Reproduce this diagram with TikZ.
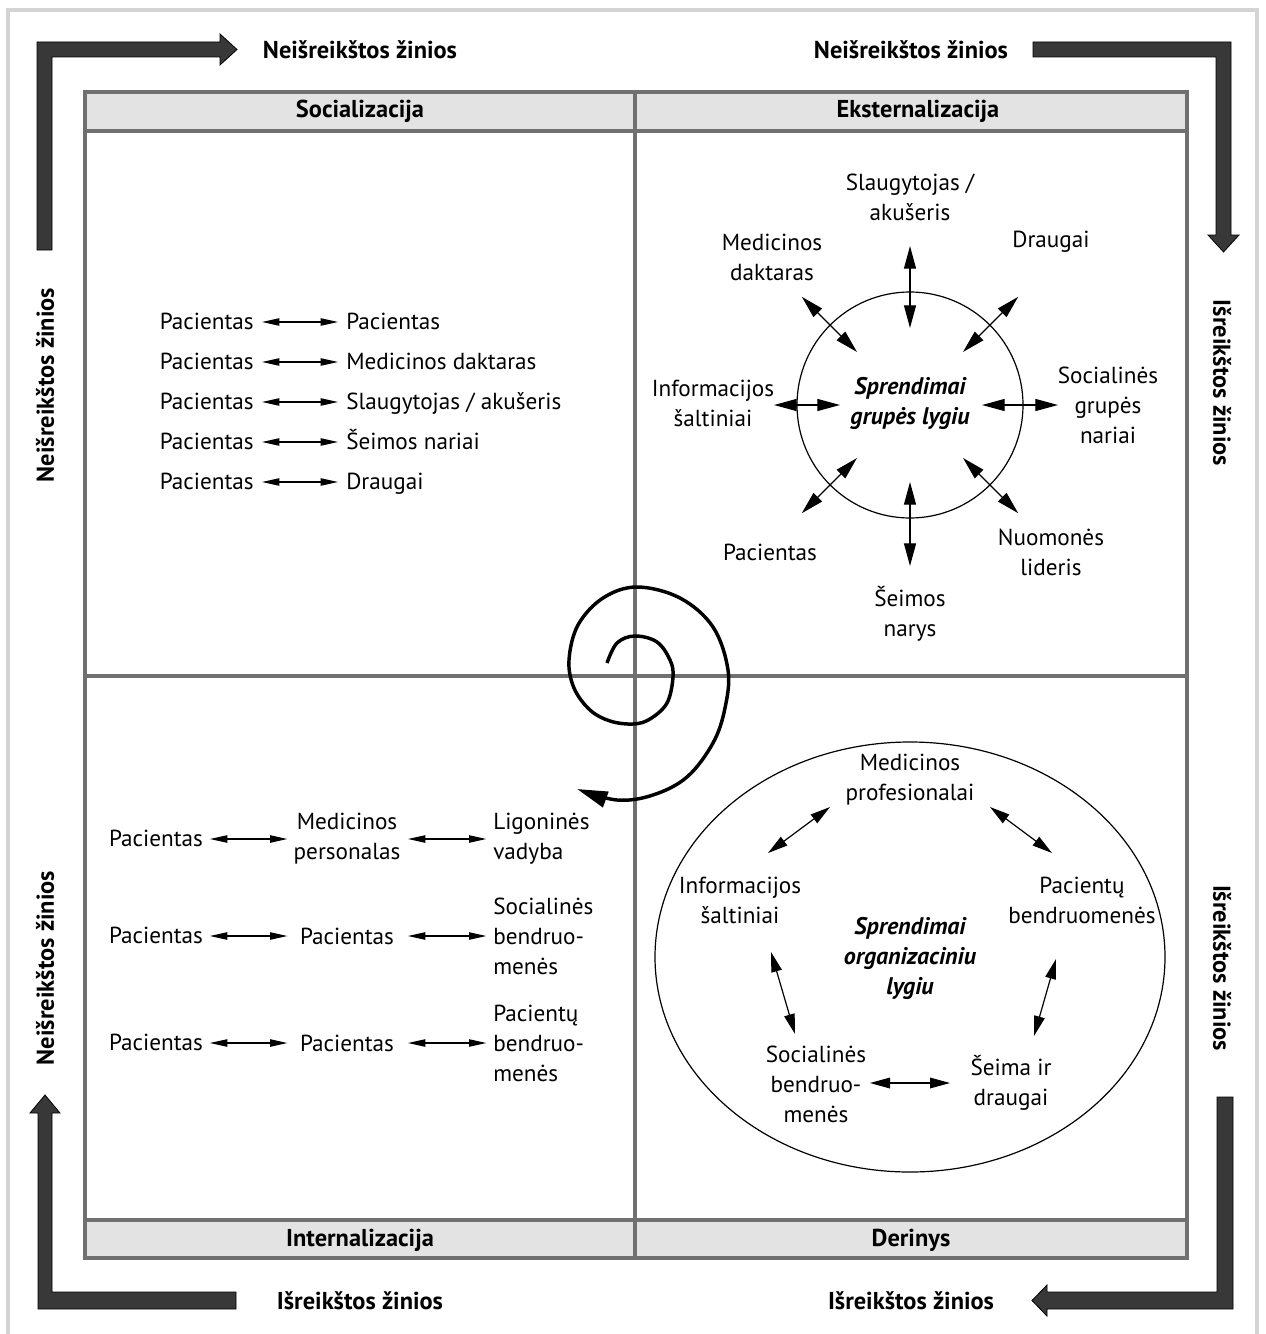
\documentclass[tikz,border=0pt]{standalone}
\usepackage{fontspec}
\setmainfont{PT Sans}
\usetikzlibrary{calc, arrows.meta}

\begin{document}
\begin{tikzpicture}[x=0.75pt, y=-0.75pt,
	txt/.style={font=\fontsize{17.4}{22.5}\selectfont, align=center, inner sep=3pt},
	one/.style={text height=12.5pt, text depth=1pt},
	lbl/.style={font=\fontsize{18.3}{20}\selectfont\bfseries, inner sep=0pt},
	mid/.style={txt, font=\fontsize{18}{22.5}\selectfont\bfseries\itshape},
	dbl/.style={<->, >={Triangle[length=13pt,width=5.5pt]}, line width=0.9pt},
	bigdbl/.style={dbl, >={Triangle[length=17pt,width=9pt]}},
	ovdbl/.style={dbl, >={Triangle[length=15pt,width=8pt]}},
	cornerarrow/.style={fill=black!78, draw=black, line width=0.6pt},
	gridline/.style={draw=black!56, line width=2.5pt},
	spiral/.style={line width=2.6pt, -{Triangle[length=23pt,width=12pt]}}
	]

	\useasboundingbox (0,0) rectangle (1265,1334);
	\draw[draw=black!17, line width=3.5pt] (8,10) rectangle (1257,1345);

	% quadrants
	\fill[black!11] (85,92) rectangle (1187,131);
	\fill[black!11] (85,1220) rectangle (1187,1258);
	\draw[gridline] (85,92) rectangle (1187,1258);
	\draw[gridline] (85,131) -- (1187,131);
	\draw[gridline] (85,1220) -- (1187,1220);
	\draw[gridline] (635,92) -- (635,1258);
	\draw[gridline] (85,676) -- (1187,676);

	\node[lbl] (soc) at (360,111) {Socializacija};
	\node[lbl] (ext) at (918,111) {Eksternalizacija};
	\node[lbl] (int) at (360,1240) {Internalizacija};
	\node[lbl] (der) at (911,1240) {Derinys};

	% corner arrows
	\filldraw[cornerarrow] (37,250) -- (37,42) -- (220,42) -- (220,34) -- (237,49.5) -- (220,65) -- (220,57) -- (52,57) -- (52,250) -- cycle;
	\filldraw[cornerarrow] (1033,42) -- (1231,42) -- (1231,235) -- (1239,235) -- (1223.5,252) -- (1208,235) -- (1216,235) -- (1216,57) -- (1033,57) -- cycle;
	\filldraw[cornerarrow] (38,1309) -- (38,1113) -- (30,1113) -- (45,1095) -- (60,1113) -- (52,1113) -- (52,1292) -- (236,1292) -- (236,1309) -- cycle;
	\filldraw[cornerarrow] (1217,1097) -- (1233,1097) -- (1233,1309) -- (1047,1309) -- (1047,1316) -- (1032,1300.5) -- (1047,1285) -- (1047,1292) -- (1217,1292) -- cycle;

	\node[lbl] (nz1) at (360,50) {Neišreikštos žinios};
	\node[lbl] (nz2) at (911,50) {Neišreikštos žinios};
	\node[lbl] (iz1) at (360,1301) {Išreikštos žinios};
	\node[lbl] (iz2) at (911,1301) {Išreikštos žinios};
	\node[lbl, rotate=90] (nz3) at (45,385) {Neišreikštos žinios};
	\node[lbl, rotate=90] (nz4) at (45,968) {Neišreikštos žinios};
	\node[lbl, rotate=-90] (iz3) at (1222,383) {Išreikštos žinios};
	\node[lbl, rotate=-90] (iz4) at (1222,968) {Išreikštos žinios};

	% socializacija
	\foreach \y/\t in {322/Pacientas, 362/Medicinos daktaras, 402/{Slaugytojas / akušeris}, 442/Šeimos nariai, 482/Draugai}{
		\node[txt, one, anchor=east] (sl\y) at (258,\y) {Pacientas};
		\node[txt, one, anchor=west] (sr\y) at (342,\y) {\t};
		\draw[dbl, shorten <=3pt, shorten >=3pt] (sl\y) -- (sr\y);
	}

	% eksternalizacija
	\coordinate (gc) at (910,405);
	\draw[line width=0.9pt] (gc) circle[radius=113];
	\node[mid] (grp) at (910,403) {Sprendimai\\grupės lygiu};
	\node[txt] (sa) at (910,197) {Slaugytojas /\\akušeris};
	\node[txt] (md) at (772,257) {Medicinos\\daktaras};
	\node[txt] (dr) at (1051,242) {Draugai};
	\node[txt] (is) at (713,403) {Informacijos\\šaltiniai};
	\node[txt] (sg) at (1108,405) {Socialinės\\grupės\\nariai};
	\node[txt] (pa) at (770,552) {Pacientas};
	\node[txt] (nl) at (1051,552) {Nuomonės\\lideris};
	\node[txt] (sn) at (910,614) {Šeimos\\narys};
	\foreach \a/\ri/\ro in {-90/77/159, -45/75/153, 0/72/148, 45/75/153, 90/77/161, 135/75/153, 180/70/136, -135/75/153}
		\draw[bigdbl] ($(gc)+(\a:\ri)$) -- ($(gc)+(\a:\ro)$);

	% internalizacija
	\foreach \i/\y/\m/\r in {1/839/{Medicinos\\personalas}/{Ligoninės\\vadyba}, 2/936/Pacientas/{Socialinės\\bendruo-\\menės}, 3/1043/Pacientas/{Pacientų\\bendruo-\\menės}}{
		\node[txt, one] (ip\i) at (156,\y) {Pacientas};
		\node[txt, minimum width=87pt] (im\i) at (347,\y) {\m};
		\node[txt, align=left, anchor=west] (ir\i) at (489,\y) {\r};
		\draw[dbl, shorten <=2pt, shorten >=1pt] (ip\i) -- (im\i);
		\draw[dbl, shorten <=2pt, shorten >=2pt] (im\i) -- (ir\i);
	}

	% derinys
	\draw[line width=0.9pt] (910,957) ellipse[x radius=255, y radius=215];
	\node[txt] (mp) at (910,780) {Medicinos\\profesionalai};
	\node[txt] (oi) at (740,900) {Informacijos\\šaltiniai};
	\node[txt] (pb) at (1082,900) {Pacientų\\bendruomenės};
	\node[mid] (org) at (910,958) {Sprendimai\\organizaciniu\\lygiu};
	\node[txt] (sb) at (816,1084) {Socialinės\\bendruo-\\menės};
	\node[txt] (sd) at (1011,1083) {Šeima ir\\draugai};
	\foreach \n/\ax/\ay/\bx/\by in {1/768/853/830/807, 2/990/807/1052/853, 3/771/952/795/1034, 4/1056/959/1034/1036, 5/870/1083/950/1083}{
		\coordinate (e\n a) at (\ax,\ay);
		\coordinate (e\n b) at (\bx,\by);
		\draw[ovdbl] (e\n a) -- (e\n b);
	}

	% spiral
	\draw[spiral] plot[smooth, tension=0.6] coordinates {(607,663) (617,643) (635,636) (657,642) (670,660) (673,677) (667,703) (650,719) (633,724) (610,721) (590,710) (574,688) (569,660) (578,625) (603,598) (637,587) (680,598) (713,627) (728,670) (725,708) (713,743) (687,777) (653,795) (617,800) (577,789)};
\end{tikzpicture}
\end{document}
